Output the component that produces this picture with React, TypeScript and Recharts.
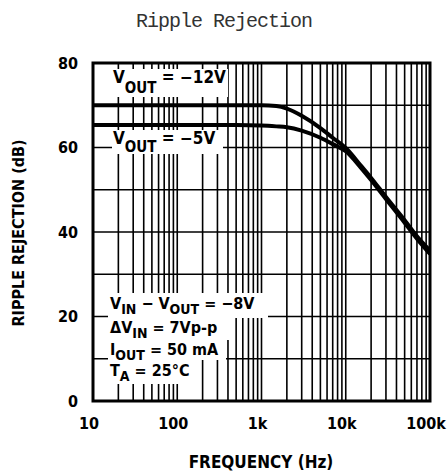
import React from 'react';
import { LineChart, Line, XAxis, YAxis, CartesianGrid, ReferenceArea } from 'recharts';

// frequency (Hz) and ripple rejection (dB)
const freqs = [10, 100, 500, 1000, 1500, 2000, 3000, 5000, 7000, 10000, 15000, 20000, 30000, 50000, 70000, 100000];
const vout12 = [70, 70, 70, 70, 69.8, 69.2, 67.5, 64.6, 62.3, 59.9, 55.8, 52.8, 48.3, 42.8, 39, 35.6];
const vout5 = [65.3, 65.3, 65.3, 65.2, 65, 64.8, 64, 62.3, 60.8, 59.1, 55.3, 52.3, 47.8, 42.2, 38.4, 34.8];

const decades = [10, 100, 1000, 10000, 100000];
const decadeLabels = ['10', '100', '1k', '10k', '100k'];
const dbTicks = [0, 10, 20, 30, 40, 50, 60, 70, 80];
const dbLabels = [0, 20, 40, 60, 80];

const mantissas = [1, 2, 3, 4, 5, 6, 7, 8, 9];
const freqTicks = decades.slice(0, -1).flatMap(d => mantissas.map(m => d * m)).concat([100000]);

const data = freqs.map((f, i) => ({ f, v12: vout12[i], v5: vout5[i] }));

const font = "'Liberation Sans Narrow', 'DejaVu Sans Condensed', 'Liberation Sans', sans-serif";

const XTick = (props: any) => {
  const i = decades.indexOf(props.payload.value);
  if (i < 0) return <g />;
  return (
    <text x={props.x - 4} y={props.y} dy="0.71em" textAnchor="middle" fill="#000" fontSize={16} fontWeight={700} fontFamily={font}>
      {decadeLabels[i]}
    </text>
  );
};

const YTick = (props: any) => {
  const v = props.payload.value;
  if (!dbLabels.includes(v)) return <g />;
  return (
    <text x={props.x} y={props.y} dy="0.355em" textAnchor="end" fill="#000" fontSize={16} fontWeight={700} fontFamily={font}>
      {String(v)}
    </text>
  );
};

export default function App() {
  return (
    <div style={{ position: 'absolute', left: 0, top: 0, width: 448, height: 473, background: '#fff' }}>
      <LineChart width={448} height={473} data={data} margin={{ top: 63, right: 18, bottom: 42, left: 63 }}>
        <CartesianGrid stroke="#000" strokeWidth={1.6} />
        <XAxis
          dataKey="f"
          type="number"
          scale="log"
          domain={[10, 100000]}
          ticks={freqTicks}
          interval={0}
          tick={XTick}
          tickSize={0}
          tickMargin={17}
          axisLine={false}
          height={30}
          allowDataOverflow
        />
        <YAxis
          type="number"
          domain={[0, 80]}
          ticks={dbTicks}
          interval={0}
          tick={YTick}
          tickSize={0}
          tickMargin={15}
          axisLine={false}
          width={30}
        />
        <ReferenceArea x1={10} x2={100000} y1={0} y2={80} fill="none" stroke="#000" strokeWidth={3} />
        <Line dataKey="v12" type="monotone" stroke="#000" strokeWidth={4} dot={false} isAnimationActive={false} />
        <Line dataKey="v5" type="monotone" stroke="#000" strokeWidth={4} dot={false} isAnimationActive={false} />
      </LineChart>

      <svg width={448} height={473} style={{ position: 'absolute', left: 0, top: 0 }}>
        <text x={224} y={27} textAnchor="middle" fontFamily="'Liberation Mono', monospace" fontSize={20} letterSpacing={-1} fill="#333">
          Ripple Rejection
        </text>
        <text x={24} y={233} transform="rotate(-90 24 233)" textAnchor="middle" fontFamily={font} fontWeight={700} fontSize={16} fill="#000">
          RIPPLE REJECTION (dB)
        </text>
        <text x={261} y={468} textAnchor="middle" fontFamily={font} fontWeight={700} fontSize={17} fill="#000">
          FREQUENCY (Hz)
        </text>

        <g fontFamily={font} fontWeight={700} fill="#000">
          <rect x={95} y={69} width={133} height={28} fill="#fff" />
          <text x={113} y={83} fontSize={17}>
            V<tspan dy={10} fontSize={15}>OUT</tspan><tspan dy={-10}> = −12V</tspan>
          </text>

          <rect x={112} y={130} width={111} height={24} fill="#fff" />
          <text x={113} y={144} fontSize={17}>
            V<tspan dy={8} fontSize={15}>OUT</tspan><tspan dy={-8}> = −5V</tspan>
          </text>

          <rect x={108} y={293} width={160} height={25} fill="#fff" />
          <rect x={108} y={318} width={125} height={22} fill="#fff" />
          <rect x={108} y={340} width={118} height={20} fill="#fff" />
          <rect x={108} y={360} width={92} height={24} fill="#fff" />
          <text x={110} y={309} fontSize={16}>
            V<tspan dy={5} fontSize={14}>IN</tspan><tspan dy={-5}> − V</tspan><tspan dy={5} fontSize={14}>OUT</tspan><tspan dy={-5}> = −8V</tspan>
          </text>
          <text x={110} y={333} fontSize={16}>
            ΔV<tspan dy={5} fontSize={14}>IN</tspan><tspan dy={-5}> = 7Vp-p</tspan>
          </text>
          <text x={110} y={355} fontSize={16}>
            I<tspan dy={5} fontSize={14}>OUT</tspan><tspan dy={-5}> = 50 mA</tspan>
          </text>
          <text x={110} y={376} fontSize={16}>
            T<tspan dy={5} fontSize={14}>A</tspan><tspan dy={-5}> = 25°C</tspan>
          </text>
        </g>
      </svg>
    </div>
  );
}
